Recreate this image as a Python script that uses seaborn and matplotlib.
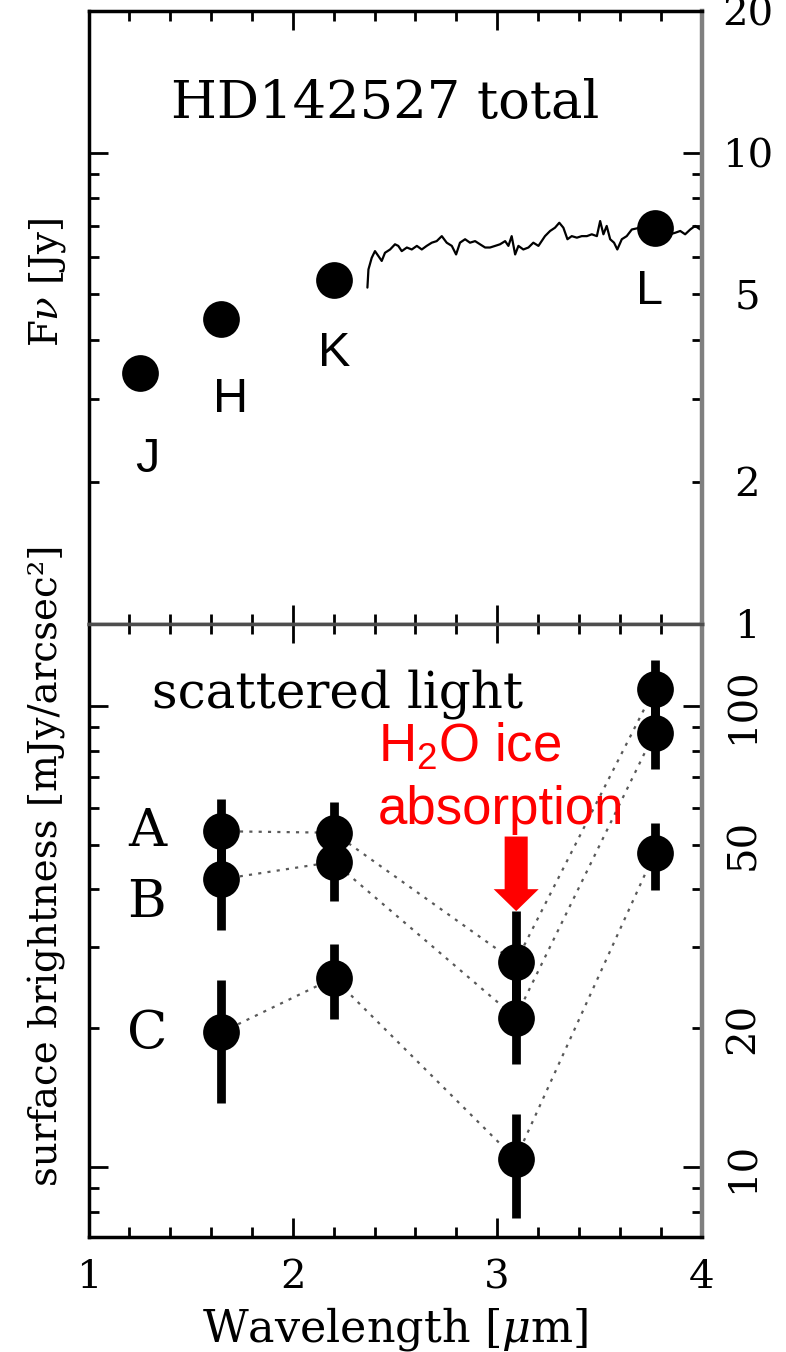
import numpy as np
import pandas as pd
import matplotlib
matplotlib.use("Agg")
import matplotlib.pyplot as plt
from matplotlib.ticker import FixedLocator, FuncFormatter
import seaborn as sns

sns.set_theme(style="white")
plt.rcParams["font.family"] = ["DejaVu Serif"]
plt.rcParams["mathtext.fontset"] = "custom"
plt.rcParams["mathtext.rm"] = "Liberation Sans"
plt.rcParams["mathtext.it"] = "DejaVu Serif:italic"
plt.rcParams["text.color"] = "black"
plt.rcParams["axes.labelcolor"] = "black"
plt.rcParams["xtick.color"] = "black"
plt.rcParams["ytick.color"] = "black"

# ---- total flux: broad-band photometry ----
band_names = ["J", "H", "K", "L"]
band_wl = [1.25, 1.65, 2.20, 3.77]
band_flux = [3.41, 4.44, 5.36, 6.93]

# ---- total flux: 3 micron spectrum ----
spec_wl = [2.365, 2.370, 2.386, 2.402, 2.419, 2.435, 2.451, 2.476, 2.500, 2.516,
           2.533, 2.558, 2.582, 2.607, 2.631, 2.655, 2.680, 2.704, 2.729, 2.753,
           2.778, 2.799, 2.818, 2.843, 2.867, 2.892, 2.916, 2.941, 2.965, 2.990,
           3.014, 3.039, 3.055, 3.071, 3.088, 3.104, 3.128, 3.153, 3.177, 3.202,
           3.234, 3.259, 3.283, 3.304, 3.324, 3.344, 3.365, 3.390, 3.414, 3.439,
           3.463, 3.488, 3.504, 3.520, 3.536, 3.553, 3.572, 3.588, 3.610, 3.634,
           3.659, 3.699, 3.748, 3.797, 3.846, 3.871, 3.896, 3.920, 3.945, 3.969,
           3.994]
spec_flux = [5.17, 5.65, 5.98, 6.18, 6.03, 5.89, 6.13, 6.23, 6.39, 6.34,
             6.18, 6.29, 6.23, 6.34, 6.23, 6.34, 6.44, 6.49, 6.65, 6.44,
             6.34, 6.08, 6.44, 6.55, 6.44, 6.49, 6.39, 6.29, 6.29, 6.34,
             6.39, 6.49, 6.34, 6.65, 6.08, 6.34, 6.23, 6.29, 6.44, 6.34,
             6.65, 6.82, 6.93, 7.10, 6.93, 6.55, 6.65, 6.60, 6.65, 6.65,
             6.71, 6.65, 7.16, 6.71, 6.99, 6.55, 6.44, 6.23, 6.55, 6.65,
             6.87, 6.93, 6.91, 6.87, 6.71, 6.76, 6.82, 6.71, 6.87, 6.99,
             6.87]

# ---- scattered light surface brightness (mJy/arcsec^2) ----
sb_wl = [1.65, 2.20, 3.09, 3.77]
sb_A = [53.5, 53.1, 27.8, 109.0]
sb_A_lo = [45.5, 45.6, 21.5, 94.3]
sb_A_hi = [62.9, 61.9, 35.9, 126.0]
sb_B = [42.1, 45.9, 21.1, 87.5]
sb_B_lo = [32.7, 37.7, 16.7, 73.0]
sb_B_hi = [54.2, 55.9, 26.7, 104.9]
sb_C = [19.6, 25.7, 10.4, 47.9]
sb_C_lo = [13.8, 20.9, 7.76, 39.9]
sb_C_hi = [25.4, 30.5, 13.0, 55.8]

region_labels = ["A", "B", "C"]

sb = pd.DataFrame({
    "region": np.repeat(region_labels, len(sb_wl)),
    "wl": sb_wl * 3,
    "sb": sb_A + sb_B + sb_C,
    "lo": sb_A_lo + sb_B_lo + sb_C_lo,
    "hi": sb_A_hi + sb_B_hi + sb_C_hi,
})

W, H = 786, 1352
fig = plt.figure(figsize=(W / 100, H / 100), dpi=100)
left, right = 88.5, 701.5
top1, mid, bot2 = 11.0, 623.5, 1237.0
ax1 = fig.add_axes([left / W, 1 - mid / H, (right - left) / W, (mid - top1) / H])
ax2 = fig.add_axes([left / W, 1 - bot2 / H, (right - left) / W, (bot2 - mid) / H])

for ax in (ax1, ax2):
    ax.set_yscale("log")
    ax.set_xlim(1, 4)

ax1.set_ylim(1, 20)
ax2.set_ylim(7.05, 151)

# top panel: spectrum and photometry
sns.lineplot(x=spec_wl, y=spec_flux, ax=ax1, color="black", lw=1.6,
             sort=False, estimator=None, zorder=2)
sns.scatterplot(x=band_wl, y=band_flux, ax=ax1, s=700, color="black",
                linewidth=0, zorder=3, legend=False)

# bottom panel: dotted connectors, error bars, points
sns.lineplot(data=sb, x="wl", y="sb", units="region", estimator=None, ax=ax2,
             color="0.35", lw=1.6, linestyle=(0, (1.4, 2.8)), zorder=1,
             legend=False)
ax2.vlines(sb["wl"], sb["lo"], sb["hi"], color="black", lw=6.3, zorder=3)
sns.scatterplot(data=sb, x="wl", y="sb", ax=ax2, s=700, color="black",
                linewidth=0, zorder=4, legend=False)

# ---- axes styling ----
def label_fmt(show):
    def f(v, pos):
        for s in show:
            if abs(v - s) < 1e-6 * s:
                return f"{s:g}"
        return ""
    return FuncFormatter(f)

for ax in (ax1, ax2):
    ax.xaxis.set_major_locator(FixedLocator([1, 2, 3, 4]))
    ax.xaxis.set_minor_locator(FixedLocator(np.arange(1.2, 4.0, 0.2)))
    ax.tick_params(which="both", direction="in", top=True, bottom=True,
                   left=True, right=True, width=2, color="black",
                   labelcolor="black", labelleft=False, labelright=True,
                   labelsize=29)
    ax.tick_params(which="major", length=14)
    ax.tick_params(which="minor", length=7)
    ax.set_xlabel("")
    ax.set_ylabel("")
    for side in ("left", "top", "bottom"):
        ax.spines[side].set_color("black")
        ax.spines[side].set_linewidth(2.5)
    ax.spines["right"].set_color("0.5")
    ax.spines["right"].set_linewidth(3.2)

ax1.spines["bottom"].set_color("0.3")
ax2.spines["top"].set_color("0.3")

ax1.yaxis.set_major_locator(FixedLocator([1, 10]))
ax1.yaxis.set_minor_locator(FixedLocator([2, 3, 4, 5, 6, 7, 8, 9, 20]))
ax1.yaxis.set_major_formatter(label_fmt([1, 10]))
ax1.yaxis.set_minor_formatter(label_fmt([2, 5, 20]))
ax1.tick_params(axis="x", labelbottom=False)
ax1.tick_params(axis="y", which="both", pad=33)
plt.setp(ax1.get_yticklabels(which="both"), ha="center")

ax2.yaxis.set_major_locator(FixedLocator([10, 100]))
ax2.yaxis.set_minor_locator(FixedLocator([8, 9, 20, 30, 40, 50, 60, 70, 80, 90]))
ax2.yaxis.set_major_formatter(label_fmt([10, 100]))
ax2.yaxis.set_minor_formatter(label_fmt([20, 50]))
ax2.tick_params(axis="y", which="both", pad=30, labelrotation=90)
plt.setp(ax2.get_yticklabels(which="both"), ha="center", va="center")
ax2.tick_params(axis="x", which="both", pad=16)
ax2.set_xlabel("Wavelength [$\\mu$m]", fontsize=32, labelpad=6, color="black")

# ---- annotations ----
ax1.text(0.4837, 0.8253, "HD142527 total", transform=ax1.transAxes,
         ha="center", va="baseline", fontsize=38, color="black")
band_lab_x = [1.288, 1.693, 2.202, 3.744]
band_lab_y = [2.10, 2.818, 3.53, 4.76]
for name, x, y in zip(band_names, band_lab_x, band_lab_y):
    ax1.text(x, y, name, ha="center", va="baseline", fontsize=35,
             family="Liberation Sans", color="black")

ax2.text(0.407, 0.8623, "scattered light", transform=ax2.transAxes,
         ha="center", va="baseline", fontsize=36, color="black")
region_lab_y = [49.6, 34.8, 18.1]
for name, y in zip(region_labels, region_lab_y):
    ax2.text(1.286, y, name, ha="center", va="baseline", fontsize=38,
             color="black")

ax2.text(2.417, 75.5, "H$_2$O ice", ha="left", va="baseline", fontsize=38,
         color="#ff0000", family="Liberation Sans")
ax2.text(2.417, 55.4, "absorption", ha="left", va="baseline", fontsize=38,
         color="#ff0000", family="Liberation Sans")
ax2.annotate("", xy=(3.093, 35.9), xytext=(3.093, 52.1),
             arrowprops=dict(arrowstyle="simple,head_length=0.79,head_width=1.62,tail_width=0.83",
                             color="#ff0000", lw=0, shrinkA=0, shrinkB=0,
                             mutation_scale=20), zorder=5)

fig.text(0.06, 1 - 282 / H, "F$\\nu$ [Jy]", rotation=90, ha="center",
         va="center", fontsize=28, color="black")
fig.text(0.06, 1 - 865 / H, "surface brightness [mJy/arcsec²]", rotation=90,
         ha="center", va="center", fontsize=28, color="black")

fig.savefig("out.png", dpi=100)
